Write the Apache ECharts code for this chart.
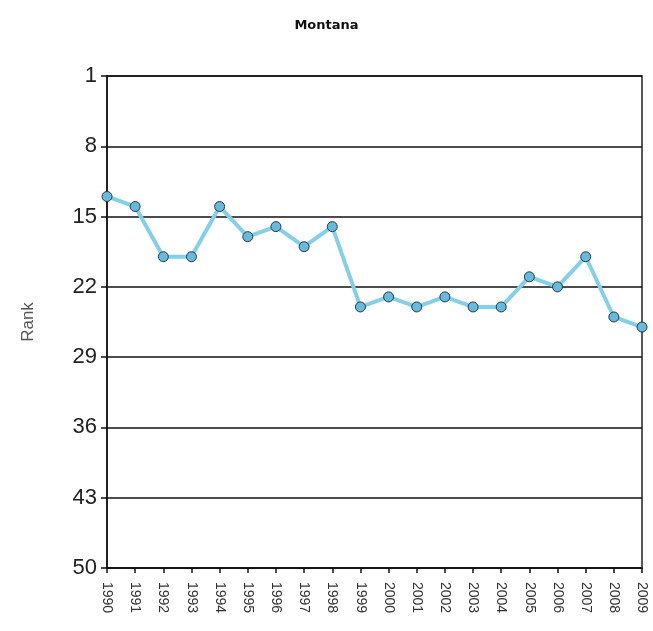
<!DOCTYPE html>
<html>
<head>
<meta charset="utf-8">
<script src="https://cdn.jsdelivr.net/npm/echarts@6/dist/echarts.min.js"></script>
<style>html,body{margin:0;padding:0;background:#fff;}#c{width:653px;height:631px;}</style>
</head>
<body>
<div id="c"></div>
<script>
const years = ['1990','1991','1992','1993','1994','1995','1996','1997','1998','1999','2000','2001','2002','2003','2004','2005','2006','2007','2008','2009'];
const rank = [13,14,19,19,14,17,16,18,16,24,23,24,23,24,24,21,22,19,25,26];
const yTicks = [1,8,15,22,29,36,43,50];

const chart = echarts.init(document.getElementById('c'));
chart.setOption({
  animation: false,
  backgroundColor: '#fff',
  title: {
    text: 'Montana', left: 'center', top: 14,
    textStyle: {fontFamily: 'DejaVu Sans', fontWeight: 'bold', fontSize: 13, color: '#111'}
  },
  grid: {left: 107, right: 11, top: 76, bottom: 63, show: true, borderColor: '#222', borderWidth: 1.5, backgroundColor: 'transparent'},
  xAxis: {
    type: 'category', data: years, boundaryGap: false,
    axisLine: {lineStyle: {color: '#111', width: 1.5}},
    axisTick: {show: true, length: 5, lineStyle: {color: '#111', width: 1.5}},
    axisLabel: {rotate: -90, fontFamily: 'Liberation Sans', fontSize: 14, color: '#333', margin: 14, interval: 0},
    splitLine: {show: false}
  },
  yAxis: {
    type: 'value', inverse: true, min: 1, max: 50,
    name: 'Rank', nameLocation: 'middle', nameGap: 70,
    nameTextStyle: {fontFamily: 'Liberation Sans', fontSize: 17, color: '#555'},
    axisLine: {show: true, lineStyle: {color: '#111', width: 1.5}},
    axisTick: {show: true, length: 6, customValues: yTicks, lineStyle: {color: '#111', width: 1.5}},
    axisLabel: {customValues: yTicks, fontFamily: 'Liberation Sans', fontSize: 22, color: '#222', margin: 10},
    splitLine: {show: true, lineStyle: {color: '#111', width: 1.5}}
  },
  series: [{
    type: 'line', data: rank,
    lineStyle: {color: '#84cfe9', width: 4},
    symbol: 'circle', symbolSize: 10,
    itemStyle: {color: '#66bade', borderColor: '#2a3a44', borderWidth: 1},
    z: 5
  }]
});
</script>
</body>
</html>
